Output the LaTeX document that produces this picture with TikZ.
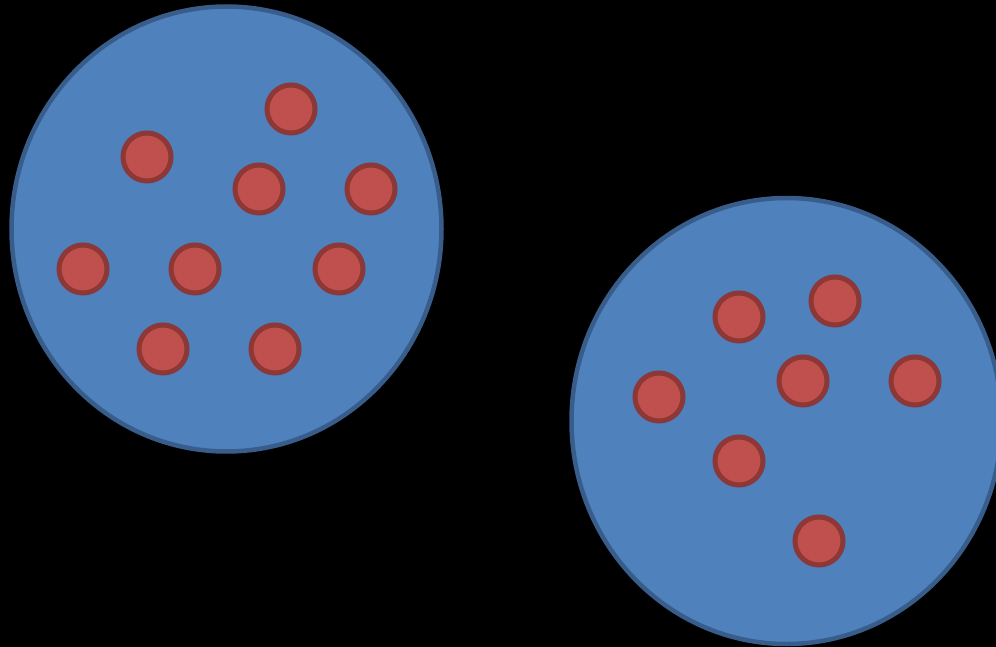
\documentclass[tikz,border=0pt]{standalone}
\begin{document}
\begin{tikzpicture}[x=1pt,y=-1pt,
  cell/.style={fill=cellfill,draw=cellline,line width=4.5pt},
  dot/.style={circle,fill=dotfill,draw=dotline,line width=5pt,minimum size=48pt,inner sep=0pt}]
\definecolor{cellfill}{HTML}{4F81BD}
\definecolor{cellline}{HTML}{385D8A}
\definecolor{dotfill}{HTML}{C0504D}
\definecolor{dotline}{HTML}{8C3836}
\fill[black] (0,0) rectangle (996,647);
\useasboundingbox (0,0) rectangle (996,647);
\clip (0,0) rectangle (996,647);
% two large cells
\draw[cell] (226.5,229) ellipse [x radius=215, y radius=222.5];
\draw[cell] (786.5,421) ellipse [x radius=215, y radius=223];
% particles in the left cell
\foreach \n/\x/\y in {a1/291/109, a2/147/157, a3/259/189, a4/371/189, a5/83/269,
                      a6/195/269, a7/339/269, a8/163/349, a9/275/349}
  \node[dot] (\n) at (\x,\y) {};
% particles in the right cell
\foreach \n/\x/\y in {b1/739/317, b2/835/301, b3/659/397, b4/803/381, b5/915/381,
                      b6/739/461, b7/819/541}
  \node[dot] (\n) at (\x,\y) {};
\end{tikzpicture}
\end{document}
